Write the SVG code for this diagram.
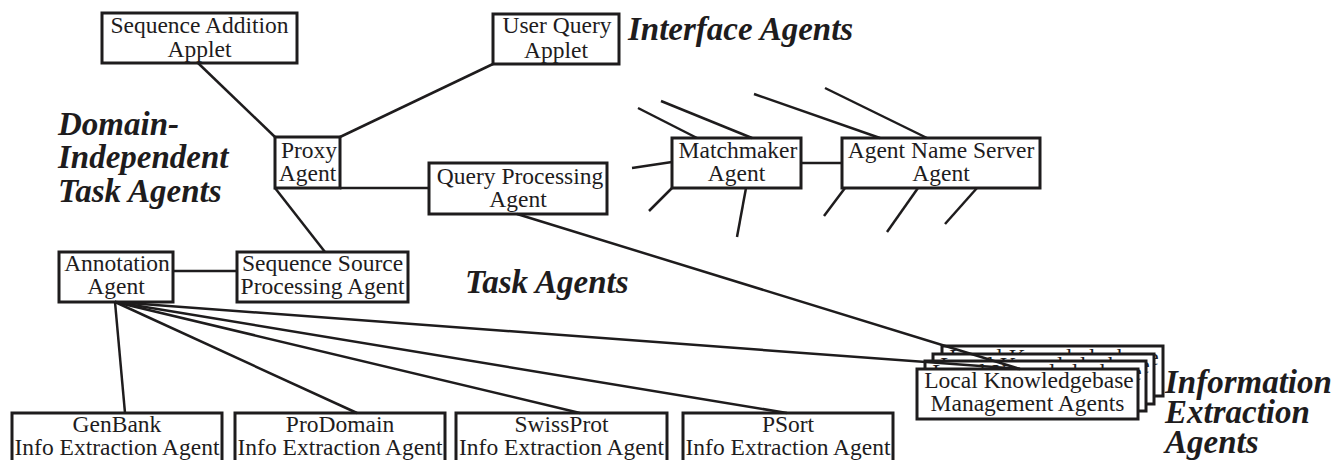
<svg xmlns="http://www.w3.org/2000/svg" width="1336" height="460" viewBox="0 0 1336 460">
  <style>
    .box { fill: #fff; stroke: #1e1c1d; stroke-width: 3; }
    .lbl { font-family: "Liberation Serif", "Times New Roman", serif; font-size: 23.5px; fill: #1e1c1d; text-anchor: middle; }
    .cat { font-family: "Liberation Serif", "Times New Roman", serif; font-size: 33px; font-weight: bold; font-style: italic; fill: #1e1c1d; }
    .edge { stroke: #1e1c1d; stroke-width: 2.5; fill: none; stroke-linecap: butt; }
  </style>

  <!-- category captions -->
  <g id="captions">
    <text class="cat" x="628" y="40">Interface Agents</text>
    <text class="cat" x="58" y="135">Domain-</text>
    <text class="cat" x="58" y="168">Independent</text>
    <text class="cat" x="58" y="202">Task Agents</text>
    <text class="cat" x="465" y="293">Task Agents</text>
    <text class="cat" x="1165" y="393">Information</text>
    <text class="cat" x="1165" y="423">Extraction</text>
    <text class="cat" x="1165" y="453">Agents</text>
  </g>

  <!-- agent boxes -->
  <g id="seq-addition-applet">
    <rect class="box" x="102" y="13" width="195" height="50"/>
    <text class="lbl" x="199.5" y="33">Sequence Addition</text>
    <text class="lbl" x="199.5" y="57">Applet</text>
  </g>
  <g id="user-query-applet">
    <rect class="box" x="493" y="14" width="126" height="50"/>
    <text class="lbl" x="557" y="33">User Query</text>
    <text class="lbl" x="556" y="58">Applet</text>
  </g>
  <g id="proxy-agent">
    <rect class="box" x="275" y="137" width="65" height="51"/>
    <text class="lbl" x="309" y="158">Proxy</text>
    <text class="lbl" x="307.5" y="181">Agent</text>
  </g>
  <g id="query-processing-agent">
    <rect class="box" x="429" y="163" width="178" height="51"/>
    <text class="lbl" x="520" y="184">Query Processing</text>
    <text class="lbl" x="518" y="207">Agent</text>
  </g>
  <g id="matchmaker-agent">
    <rect class="box" x="672" y="138" width="129" height="50"/>
    <text class="lbl" x="738" y="158">Matchmaker</text>
    <text class="lbl" x="736.5" y="181">Agent</text>
  </g>
  <g id="agent-name-server">
    <rect class="box" x="842" y="138" width="198" height="50"/>
    <text class="lbl" x="941" y="158">Agent Name Server</text>
    <text class="lbl" x="941" y="181">Agent</text>
  </g>
  <g id="annotation-agent">
    <rect class="box" x="59" y="252" width="114" height="50"/>
    <text class="lbl" x="117" y="271">Annotation</text>
    <text class="lbl" x="116" y="294">Agent</text>
  </g>
  <g id="sequence-source-agent">
    <rect class="box" x="237" y="252" width="171" height="50"/>
    <text class="lbl" x="322.5" y="271">Sequence Source</text>
    <text class="lbl" x="322.5" y="294">Processing Agent</text>
  </g>
  <g id="genbank-agent">
    <rect class="box" x="12" y="413" width="210" height="52"/>
    <text class="lbl" x="117" y="432">GenBank</text>
    <text class="lbl" x="117" y="455">Info Extraction Agent</text>
  </g>
  <g id="prodomain-agent">
    <rect class="box" x="235" y="413" width="210" height="52"/>
    <text class="lbl" x="340" y="432">ProDomain</text>
    <text class="lbl" x="340" y="455">Info Extraction Agent</text>
  </g>
  <g id="swissprot-agent">
    <rect class="box" x="456" y="413" width="211" height="52"/>
    <text class="lbl" x="561.5" y="432">SwissProt</text>
    <text class="lbl" x="561.5" y="455">Info Extraction Agent</text>
  </g>
  <g id="psort-agent">
    <rect class="box" x="683" y="413" width="210" height="52"/>
    <text class="lbl" x="788" y="432">PSort</text>
    <text class="lbl" x="788" y="455">Info Extraction Agent</text>
  </g>

  <!-- stacked knowledgebase agents, back to front -->
  <g id="local-kb-agents">
    <g transform="translate(942 346)">
      <rect class="box" x="0" y="0" width="221" height="50"/>
      <text class="lbl" x="112" y="19">Local Knowledgebase</text>
      <text class="lbl" x="110.5" y="42">Management Agents</text>
    </g>
    <g transform="translate(933 354)">
      <rect class="box" x="0" y="0" width="221" height="50"/>
      <text class="lbl" x="112" y="19">Local Knowledgebase</text>
      <text class="lbl" x="110.5" y="42">Management Agents</text>
    </g>
    <g transform="translate(925 361)">
      <rect class="box" x="0" y="0" width="221" height="50"/>
      <text class="lbl" x="112" y="19">Local Knowledgebase</text>
      <text class="lbl" x="110.5" y="42">Management Agents</text>
    </g>
    <g transform="translate(917 369)">
      <rect class="box" x="0" y="0" width="221" height="50"/>
      <text class="lbl" x="112" y="19">Local Knowledgebase</text>
      <text class="lbl" x="110.5" y="42">Management Agents</text>
    </g>
  </g>

  <!-- connectors -->
  <g id="connectors" class="edge">
    <line x1="198" y1="63" x2="275" y2="137"/>
    <line x1="340" y1="137" x2="493" y2="64"/>
    <line x1="340" y1="188" x2="429" y2="188"/>
    <line x1="275" y1="188" x2="325" y2="252"/>
    <line x1="173" y1="271" x2="237" y2="271"/>
    <line x1="517" y1="214" x2="1020" y2="369"/>
    <line x1="801" y1="163" x2="842" y2="163"/>
    <!-- open-ended links around the matchmaker and name server -->
    <line x1="638" y1="108" x2="697" y2="138"/>
    <line x1="661" y1="101" x2="752" y2="138"/>
    <line x1="632" y1="168" x2="672" y2="162"/>
    <line x1="649" y1="211" x2="672" y2="188"/>
    <line x1="737" y1="237" x2="746" y2="188"/>
    <line x1="754" y1="94" x2="880" y2="138"/>
    <line x1="825" y1="88" x2="927" y2="138"/>
    <line x1="824" y1="216" x2="845" y2="188"/>
    <line x1="887" y1="232" x2="918" y2="188"/>
    <line x1="945" y1="224" x2="977" y2="188"/>
    <!-- annotation fan-out -->
    <line x1="115" y1="302" x2="125" y2="413"/>
    <line x1="115" y1="302" x2="357" y2="413"/>
    <line x1="115" y1="302" x2="580" y2="413"/>
    <line x1="115" y1="302" x2="787" y2="413"/>
    <line x1="115" y1="302" x2="1020" y2="369"/>
  </g>
</svg>
